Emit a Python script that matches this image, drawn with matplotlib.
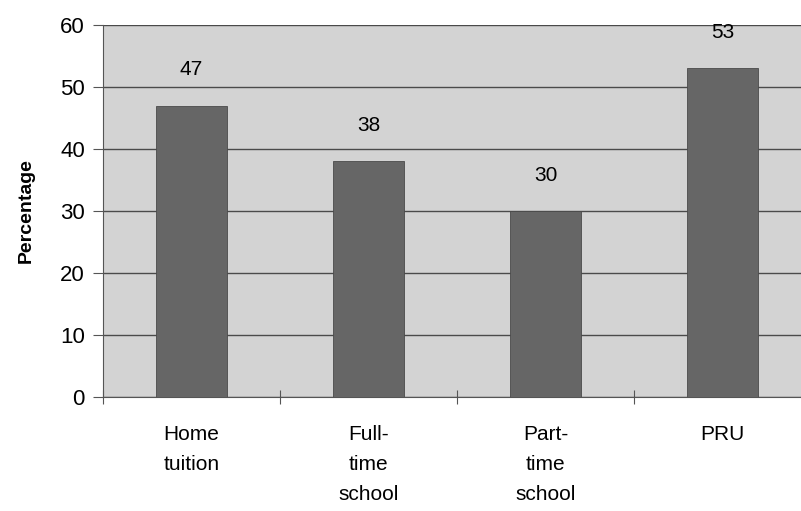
import matplotlib.pyplot as plt
import numpy as np

plt.rcParams['font.family'] = ['Liberation Sans', 'DejaVu Sans']

categories = ["Home\ntuition", "Full-\ntime\nschool", "Part-\ntime\nschool", "PRU"]
percentages = [47, 38, 30, 53]

fig = plt.figure(figsize=(8.01, 5.11), dpi=100)
ax = fig.add_axes([0.1286, 0.223, 0.884, 0.728])
ax.set_facecolor('#d3d3d3')

index = np.arange(len(categories))
bars = ax.bar(index, percentages, 0.4, color='#666666', edgecolor='#4a4a4a', linewidth=0.6, zorder=3)

for item in bars:
    h = item.get_height()
    ax.annotate("%d" % h, (item.get_x() + item.get_width() / 2., h),
                xytext=(0, 19), textcoords='offset points',
                ha='center', va='bottom', fontsize=15)

ax.set_xlim(-0.5, len(categories) - 0.5)
ax.set_ylim(0, 60)
ax.set_yticks(range(0, 61, 10))
ax.yaxis.grid(True, color='#4a4a4a', linewidth=1, zorder=1)

ax.set_xticks(np.arange(-0.5, len(categories)), minor=False)
ax.set_xticklabels([])
ax.set_xticks(index, minor=True)
ax.set_xticklabels(categories, minor=True, fontsize=15, va='top', linespacing=1.75)
ax.tick_params(axis='x', which='minor', length=0, pad=20)
ax.tick_params(axis='x', which='major', direction='inout', length=10, color='#555555')
ax.tick_params(axis='y', direction='out', length=7, color='#555555', labelsize=16, pad=6)

for side in ['top', 'right']:
    ax.spines[side].set_visible(False)
ax.spines['left'].set_color('#555555')
ax.spines['bottom'].set_color('#555555')

ax.set_ylabel("Percentage", fontsize=14, fontweight='bold', labelpad=18)

fig.savefig("out.png", dpi=100, facecolor='white')
